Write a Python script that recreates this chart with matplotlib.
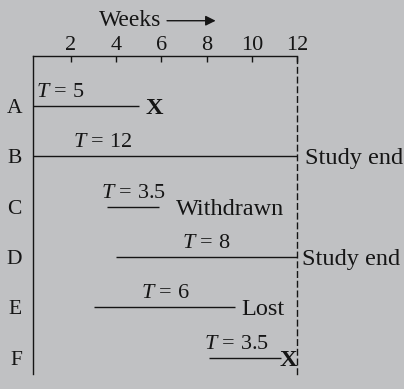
import matplotlib.pyplot as plt

# subjects and their follow-up intervals (weeks)
rows = ['A', 'B', 'C', 'D', 'E', 'F']
start = [0, 0, 3.6, 4.0, 3.0, 8.1]
end = [5, 12, 5.9, 12, 9.25, 11.3]
t_labels = ['$T$ = 5', '$T$ = 12', '$T$ = 3.5', '$T$ = 8', '$T$ = 6', '$T$ = 3.5']
outcome = ['X', 'Study end', 'Withdrawn', 'Study end', 'Lost', 'X']
week_ticks = [2, 4, 6, 8, 10, 12]

# layout only
t_x = [1.5, 3.4, 4.75, 8.0, 6.15, 9.3]
out_gap = [7, 8, 17, 5, 6, -2]

bg = '#c0c1c3'
ink = '#151515'
plt.rcParams['font.family'] = 'Liberation Serif'
plt.rcParams['mathtext.fontset'] = 'custom'
plt.rcParams['mathtext.rm'] = 'Liberation Serif'
plt.rcParams['mathtext.it'] = 'Liberation Serif:italic'

fig = plt.figure(figsize=(4.04, 3.89), dpi=100, facecolor=bg)
ax = fig.add_axes([33 / 404, 15 / 389, 264 / 404, 318 / 389])
ax.set_facecolor(bg)

ax.hlines(range(len(rows)), start, end, color=ink, lw=1.0)

for i in range(len(rows)):
    ax.text(t_x[i], i - 0.27, t_labels[i], ha='center', va='center',
            fontsize=16, color=ink)
    bold = outcome[i] == 'X'
    ax.annotate(outcome[i], xy=(end[i], i), xytext=(out_gap[i], 0),
                textcoords='offset pixels', ha='left', va='center_baseline',
                fontsize=17.5, color=ink, annotation_clip=False,
                fontweight='bold' if bold else 'normal')

ax.set_xlim(0.32, 12)
ax.set_ylim(5.32, -0.99)
ax.xaxis.tick_top()
ax.set_xticks(week_ticks)
ax.tick_params(axis='x', direction='in', length=4.5, width=1, pad=1,
               labelsize=16, colors=ink)
ax.set_yticks(range(len(rows)))
ax.set_yticklabels(rows)
ax.tick_params(axis='y', length=0, pad=8, labelsize=15.5, colors=ink)

ax.spines['bottom'].set_visible(False)
for s in ['top', 'left']:
    ax.spines[s].set_linewidth(1.0)
    ax.spines[s].set_color(ink)
ax.spines['right'].set_linestyle((0, (4, 3)))
ax.spines['right'].set_linewidth(1.0)
ax.spines['right'].set_color(ink)

# axis title with arrow
ax.text(4.6, -1.69, 'Weeks', ha='center', va='center', fontsize=17,
        color=ink, clip_on=False)
ax.annotate('', xy=(8.4, -1.69), xytext=(6.25, -1.69), annotation_clip=False,
            arrowprops=dict(arrowstyle='-|>', color=ink, lw=1.0,
                            mutation_scale=15, shrinkA=0, shrinkB=0))

fig.savefig('out.png', dpi=100, facecolor=bg)
